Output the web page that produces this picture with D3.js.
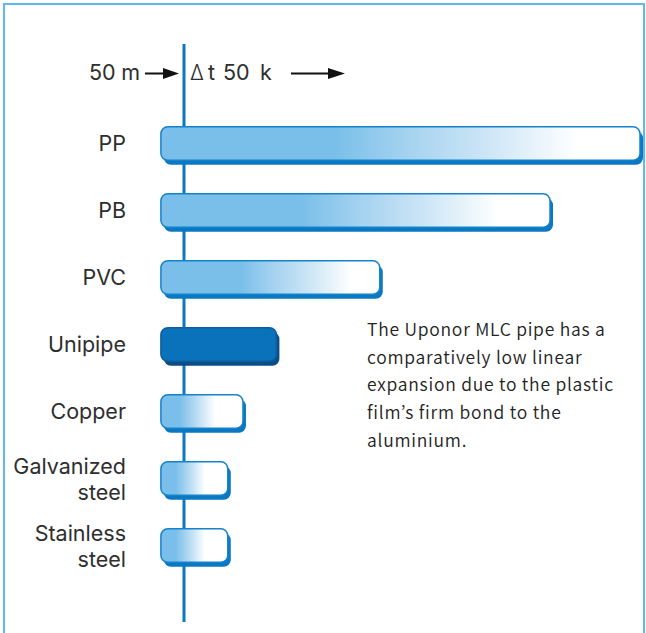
<!DOCTYPE html>
<html>
<head>
<meta charset="utf-8">
<script src="https://cdn.jsdelivr.net/npm/d3@7"></script>
<style>
  html, body { margin: 0; padding: 0; background: #fff; }
  svg { display: block; }
</style>
</head>
<body>
<svg id="chart" width="646" height="633"></svg>
<script>
// ---- data ----
const categories = ["PP", "PB", "PVC", "Unipipe", "Copper", "Galvanized steel", "Stainless steel"];
const labelLines = [["PP"], ["PB"], ["PVC"], ["Unipipe"], ["Copper"], ["Galvanized", "steel"], ["Stainless", "steel"]];
const expansion = [375, 301, 161, 76, 48.5, 36, 36]; // relative linear expansion, 50 m at Δt 50 K
const highlighted = ["Unipipe"];
const pipeStart = -19; // pipe starts slightly left of reference axis
const headerLeft = "50 m";
const headerDelta = "\u0394";
const headerRightParts = ["t", "50", "k"];
const noteLines = [
  "The Uponor MLC pipe has a",
  "comparatively low linear",
  "expansion due to the plastic",
  "film\u2019s firm bond to the",
  "aluminium."
];

// ---- drawing ----
const svg = d3.select("#chart");

// frame
svg.append("rect")
  .attr("x", 4).attr("y", 4).attr("width", 640).attr("height", 660)
  .attr("fill", "none").attr("stroke", "#5fb8ee").attr("stroke-width", 2);

const x = d3.scaleLinear().domain([0, 375]).range([184, 640]);
const y = d3.scaleBand().domain(categories).range([110, 579]).paddingInner(0.5).paddingOuter(0.25);

const defs = svg.append("defs");
const grad = defs.append("linearGradient").attr("id", "pipeGrad")
  .attr("x1", 0).attr("x2", 1).attr("y1", 0).attr("y2", 0);
[[0, "#79bfe9"], [0.36, "#79bfe9"], [0.52, "#a6d3f0"], [0.7, "#d2e8f7"], [0.87, "#ffffff"], [1, "#ffffff"]]
  .forEach(([o, c]) => grad.append("stop").attr("offset", o).attr("stop-color", c));
const gradS = defs.append("linearGradient").attr("id", "pipeGradShort")
  .attr("x1", 0).attr("x2", 1).attr("y1", 0).attr("y2", 0);
[[0, "#79bfe9"], [0.22, "#79bfe9"], [0.42, "#b4daf2"], [0.66, "#ffffff"], [1, "#ffffff"]]
  .forEach(([o, c]) => gradS.append("stop").attr("offset", o).attr("stop-color", c));

// axis line
svg.append("line")
  .attr("x1", x(0)).attr("x2", x(0)).attr("y1", 44).attr("y2", 622)
  .attr("stroke", "#0a78c2").attr("stroke-width", 3);

const data = categories.map((c, i) => ({ cat: c, value: expansion[i], lines: labelLines[i] }));

const bars = svg.append("g").selectAll("g").data(data).join("g");
// shadow
bars.append("rect")
  .attr("x", d => x(pipeStart) + 3)
  .attr("y", d => y(d.cat) + 4.5)
  .attr("width", d => x(d.value) - x(pipeStart))
  .attr("height", y.bandwidth())
  .attr("rx", 7).attr("ry", 7)
  .attr("fill", d => highlighted.includes(d.cat) ? "#0b4e86" : "#0a78c2");
// main pipe
bars.append("rect")
  .attr("x", d => x(pipeStart))
  .attr("y", d => y(d.cat))
  .attr("width", d => x(d.value) - x(pipeStart))
  .attr("height", y.bandwidth())
  .attr("rx", 7).attr("ry", 7)
  .attr("fill", d => highlighted.includes(d.cat) ? "#0a72bb" : (d.value > 100 ? "url(#pipeGrad)" : "url(#pipeGradShort)"))
  .attr("stroke", d => highlighted.includes(d.cat) ? "#0a5e9e" : "#1583c9")
  .attr("stroke-width", 1.5);

// category labels
const labels = svg.append("g").selectAll("text").data(data).join("text")
  .attr("text-anchor", "end")
  .attr("font-family", "Inter, sans-serif")
  .attr("font-size", 21.5)
  .attr("fill", "#2e2e2e")
  .attr("y", d => y(d.cat) + y.bandwidth() / 2 + (d.lines.length > 1 ? -5 : 7.5));
labels.selectAll("tspan").data(d => d.lines).join("tspan")
  .attr("x", 126)
  .attr("dy", (l, i) => i === 0 ? 0 : 26.2)
  .text(l => l);

// header
const hdr = svg.append("g").attr("font-family", "Inter, sans-serif").attr("font-size", 21.5).attr("fill", "#2e2e2e");
hdr.append("text").attr("x", 89).attr("y", 80)
  .attr("textLength", 51).attr("lengthAdjust", "spacing").text(headerLeft);
hdr.append("text").attr("x", 190).attr("y", 80).attr("font-weight", 300)
  .attr("font-size", 21).text(headerDelta);
const hr = hdr.append("text").attr("y", 80);
hr.selectAll("tspan").data(headerRightParts).join("tspan")
  .attr("x", (d, i) => [208, 223, 260][i])
  .text(d => d);

function arrow(x1, x2, yy, headLen) {
  svg.append("line").attr("x1", x1).attr("x2", x2 - headLen + 1).attr("y1", yy).attr("y2", yy)
    .attr("stroke", "#111").attr("stroke-width", 2);
  svg.append("path")
    .attr("d", `M${x2 - headLen},${yy - 5.5} L${x2},${yy} L${x2 - headLen},${yy + 5.5} Z`)
    .attr("fill", "#111");
}
arrow(145, 179, 73.5, 16);
arrow(291, 345, 73.5, 17);

// note
svg.append("g").selectAll("text").data(noteLines).join("text")
  .attr("x", 367)
  .attr("y", (d, i) => 336 + i * 27.7)
  .attr("font-family", "'Noto Sans CJK KR', sans-serif")
  .attr("font-size", 17.5)
  .attr("font-weight", 350)
  .attr("letter-spacing", 0.75)
  .attr("fill", "#222")
  .text(d => d);
</script>
</body>
</html>
